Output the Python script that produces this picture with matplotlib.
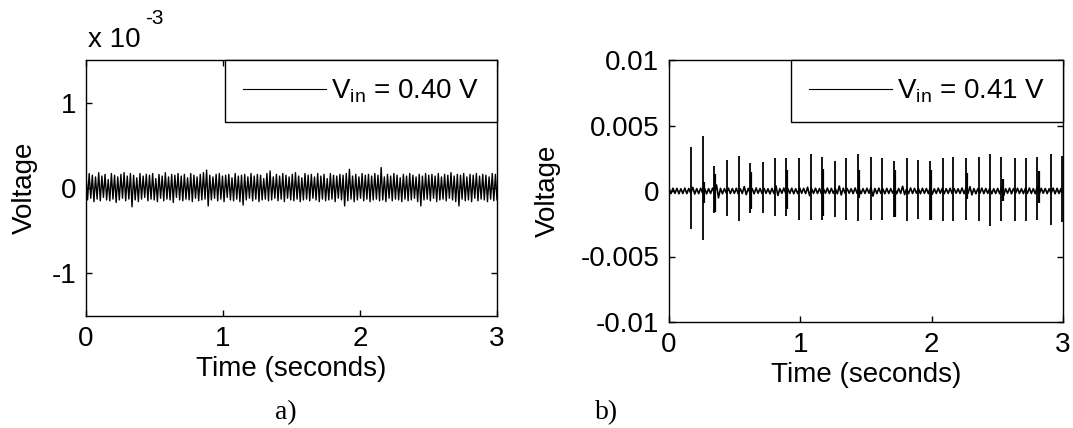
import numpy as np
import matplotlib as mpl
mpl.use('Agg')
import matplotlib.pyplot as plt

plt.rcParams['font.family'] = ['Liberation Sans', 'DejaVu Sans']
plt.rcParams['mathtext.default'] = 'regular'

# ---- panel a) : Vin = 0.40 V, noise only (peaks in units of 1e-4 V, alternating) ----
noise_a = [
    1.6, -1.4, 1.7, -1.2, 1.5, -1.6, 1.3, -1.3, 1.8, -1.5, 1.4, -1.1, 1.6, -1.4, 1.0, -1.5, 1.7, -1.3, 1.5, -1.7,
    1.3, -1.4, 1.6, -1.2, 1.8, -1.5, 1.4, -1.3, 1.7, -2.2, 1.5, -1.4, 1.2, -1.6, 1.7, -1.3, 1.4, -1.1, 1.6, -1.5,
    1.5, -1.3, 1.7, -1.4, 1.1, -1.6, 1.6, -1.2, 1.4, -1.5, 1.8, -1.3, 1.3, -1.4, 1.6, -1.7, 1.5, -1.1, 1.7, -1.4,
    1.4, -1.5, 1.6, -1.3, 1.2, -1.4, 1.7, -1.6, 1.5, -1.2, 1.3, -1.5, 1.6, -1.4, 1.8, -1.3, 2.1, -2.1, 1.5, -1.4,
    1.3, -1.2, 1.6, -1.5, 1.7, -1.3, 1.4, -1.6, 1.5, -1.1, 1.6, -1.4, 1.2, -1.5, 1.7, -1.3, 1.4, -1.6, 1.5, -2.0,
    1.6, -1.4, 1.3, -1.2, 1.7, -1.5, 1.4, -1.3, 1.6, -1.6, 1.5, -1.4, 1.1, -1.3, 1.7, -1.5, 2.0, -1.4, 1.3, -1.2,
    1.6, -1.5, 1.4, -1.3, 1.7, -1.6, 1.5, -1.2, 1.3, -1.4, 1.6, -1.5, 1.8, -1.3, 1.4, -1.6, 1.2, -1.4, 1.7, -1.3,
    1.5, -1.5, 1.6, -1.2, 1.3, -1.4, 1.7, -1.6, 1.4, -1.3, 1.6, -1.5, 1.1, -1.4, 1.7, -1.3, 1.5, -1.6, 1.4, -1.2,
    1.6, -1.4, 1.5, -2.1, 1.7, -1.5, 2.2, -1.3, 1.4, -1.6, 1.6, -1.4, 1.3, -1.2, 1.7, -1.5, 1.5, -1.3, 1.6, -1.6,
    1.4, -1.4, 1.7, -1.3, 1.5, -1.5, 2.4, -1.4, 1.3, -1.6, 1.6, -1.2, 1.4, -1.5, 1.7, -1.3, 1.5, -1.4, 1.2, -1.6,
    1.6, -1.3, 1.4, -1.5, 1.7, -1.4, 1.5, -1.2, 1.3, -1.6, 1.6, -2.1, 1.4, -1.4, 1.7, -1.3, 1.5, -1.5, 1.6, -1.2,
    1.4, -1.6, 1.7, -1.4, 1.3, -1.3, 1.6, -1.5, 1.5, -1.2, 1.8, -1.4, 1.4, -1.6, 1.6, -2.1, 1.5, -1.3, 1.7, -1.5,
    1.3, -1.4, 1.6, -1.6, 1.5, -1.2, 1.7, -1.5, 1.4, -1.3, 1.6, -1.4, 1.5, -1.6, 1.3, -1.3, 1.7, -1.5, 1.6, -1.4,
]

# ---- panel b) : Vin = 0.41 V, baseline (1e-4 V) + spikes (1e-3 V) ----
base_b = [
    1.9, -2.0, 2.1, -1.8, 2.0, -2.1, 1.7, -1.9, 2.2, -2.0, 1.9, -1.8, 2.8, -2.3, 1.8, -2.0, 2.1, -1.7, 1.9, -2.2,
    1.8, -1.9, 2.2, -1.8, 4.6, -5.2, 2.0, -2.1, 1.8, -1.7, 2.2, -2.0, 1.9, -1.8, 2.1, -2.3, 1.7, -1.9, 3.4, -2.8,
    2.0, -1.8, 1.8, -2.1, 2.3, -1.7, 1.9, -2.0, 2.1, -1.8, 1.7, -2.2, 2.0, -1.9, 4.0, -3.4, 1.8, -1.7, 2.2, -2.0,
    1.9, -1.8, 2.1, -2.1, 1.7, -1.9, 2.3, -1.7, 2.0, -2.0, 2.9, -3.5, 1.8, -1.8, 2.1, -1.9, 1.9, -2.2, 1.7, -1.7,
    2.2, -2.0, 2.0, -1.8, 1.8, -2.1, 3.8, -3.0, 2.1, -1.9, 1.9, -1.7, 1.7, -2.0, 2.3, -1.8, 2.0, -2.1, 1.8, -1.9,
    2.1, -1.7, 2.7, -3.9, 1.9, -2.0, 2.2, -1.8, 1.7, -2.1, 2.0, -1.9, 1.8, -1.7, 2.1, -2.2, 1.9, -1.8, 3.6, -2.7,
    1.7, -2.0, 2.3, -1.9, 2.0, -1.7, 1.8, -2.1, 2.1, -1.8, 1.9, -2.0, 3.1, -2.4, 1.7, -1.9, 2.2, -1.7, 2.0, -2.1,
    1.8, -1.8, 2.1, -2.0, 1.9, -1.7, 1.7, -1.9, 2.3, -2.0, 2.0, -1.8, 3.3, -2.9, 1.9, -2.1, 1.8, -1.7, 2.2, -2.0,
    1.9, -1.8, 2.1, -2.2, 1.7, -1.9, 2.0, -2.0, 3.0, -3.6, 1.8, -1.7, 2.2, -2.1, 1.9, -1.8, 2.1, -1.9, 1.7, -2.0,
    2.0, -1.8, 2.3, -1.9, 1.8, -2.1, 3.5, -2.6, 2.1, -1.7, 1.9, -2.0, 1.7, -1.8, 2.2, -2.1, 2.0, -1.9, 1.8, -2.0,
]

spike_t = [0.170, 0.259, 0.343, 0.442, 0.530, 0.617, 0.716, 0.805, 0.891, 0.990,
           1.079, 1.162, 1.261, 1.350, 1.437, 1.536, 1.622, 1.711, 1.810, 1.898,
           1.987, 2.084, 2.165, 2.261, 2.358, 2.442, 2.530, 2.632, 2.716, 2.805,
           2.906, 2.992]
spike_hi = [3.35, 4.19, 1.9, 2.34, 2.64, 2.16, 2.2, 2.5, 2.5, 2.5,
            2.8, 2.6, 2.3, 2.5, 2.8, 2.6, 2.5, 2.3, 2.5, 2.4,
            2.3, 2.5, 2.6, 2.5, 2.6, 2.8, 2.6, 2.5, 2.5, 2.6,
            2.8, 2.7]
spike_lo = [-2.92, -3.76, -1.7, -1.9, -2.3, -1.7, -1.7, -1.9, -1.9, -2.2,
            -2.2, -2.2, -2.0, -2.2, -2.3, -2.2, -2.2, -2.0, -2.3, -2.1,
            -2.2, -2.3, -2.3, -2.2, -2.3, -2.7, -2.3, -2.3, -2.3, -2.2,
            -2.6, -2.4]

# shorter companion lines next to some spikes (1e-3 V)
sec_t = [0.266, 0.352, 0.627, 0.901, 1.172, 1.447, 1.721, 1.997, 2.27, 2.54, 2.815]
sec_hi = [0.7, 1.3, 1.45, 1.6, 1.7, 1.6, 1.6, 1.6, 1.4, 0.9, 1.5]
sec_lo = [-0.9, -1.6, -1.35, -1.4, -1.9, -0.5, -2.0, -2.2, -0.6, -0.8, -0.9]

labels = ['V$_{in}$ = 0.40 V', 'V$_{in}$ = 0.41 V']
xticks = [0, 1, 2, 3]
yticks_a = [-1e-3, 0, 1e-3]
yticklabels_a = ['-1', '0', '1']
yticks_b = [-0.01, -0.005, 0, 0.005, 0.01]
yticklabels_b = ['-0.01', '-0.005', '0', '0.005', '0.01']

W, H = 1073, 428
fig = plt.figure(figsize=(W / 100, H / 100), dpi=100)


def px_axes(x0, y0, x1, y1):
    return fig.add_axes([x0 / W, 1 - y1 / H, (x1 - x0) / W, (y1 - y0) / H])


def style(ax):
    ax.tick_params(direction='in', length=4, width=1, top=True, right=True,
                   labelsize=20, pad=7)
    for s in ax.spines.values():
        s.set_linewidth(1)
    ax.set_xlim(0, 3)
    ax.set_xticks(xticks)
    ax.set_xlabel('Time (seconds)', fontsize=20, labelpad=3)
    ax.set_ylabel('Voltage', fontsize=20)


def add_legend(ax):
    leg = ax.legend(loc='upper right', borderaxespad=0, fontsize=20, fancybox=False,
                    framealpha=1, edgecolor='k', handlelength=3.0, handletextpad=0.2,
                    borderpad=0.62)
    leg.get_frame().set_linewidth(1)
    for h in leg.get_lines():
        h.set_linewidth(0.8)


# a)
ax1 = px_axes(86, 60, 497, 316)
t_a = np.linspace(0, 3, len(noise_a))
ax1.plot(t_a, np.array(noise_a) * 1e-4, color='k', lw=1.0, label=labels[0])
ax1.set_ylim(-1.5e-3, 1.5e-3)
ax1.set_yticks(yticks_a)
ax1.set_yticklabels(yticklabels_a)
style(ax1)
ax1.yaxis.set_label_coords(-0.118, 0.5)
fig.text(88 / W, 1 - 40 / H, 'x 10', fontsize=20, ha='left', va='center')
fig.text(145 / W, 1 - 18 / H, '-3', fontsize=15, ha='left', va='center')
add_legend(ax1)

# b)
ax2 = px_axes(669, 60, 1063, 322)
t_b = np.linspace(0, 3, len(base_b))
ax2.plot(t_b, np.array(base_b) * 1e-4, color='k', lw=1.2, label=labels[1])
ax2.vlines(spike_t, np.array(spike_lo) * 1e-3, np.array(spike_hi) * 1e-3,
           colors='k', lw=1.3)
ax2.vlines(sec_t, np.array(sec_lo) * 1e-3, np.array(sec_hi) * 1e-3,
           colors='k', lw=1.6)
ax2.set_ylim(-0.01, 0.01)
ax2.set_yticks(yticks_b)
ax2.set_yticklabels(yticklabels_b)
style(ax2)
ax2.yaxis.set_label_coords(-0.275, 0.5)
add_legend(ax2)

fig.text(286 / W, 1 - 413 / H, 'a)', family='Liberation Serif', fontsize=20,
         ha='center', va='center')
fig.text(607 / W, 1 - 413 / H, 'b)', family='Liberation Serif', fontsize=20,
         ha='center', va='center')

fig.savefig('out.png', dpi=100)
